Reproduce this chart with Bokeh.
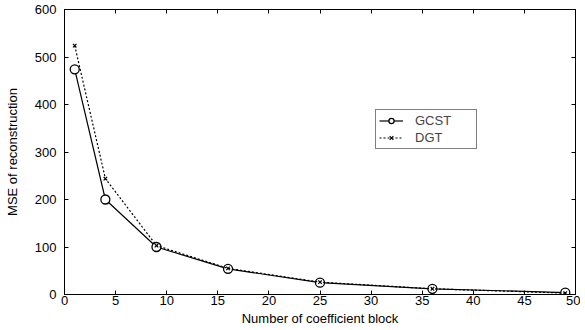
from bokeh.plotting import figure
from bokeh.models import LinearAxis, Range1d, Legend, LegendItem, FixedTicker
from bokeh.embed import file_html
from bokeh.resources import INLINE

blocks = [1, 4, 9, 16, 25, 36, 49]
gcst = [474, 200, 100, 54, 25, 12, 4]
dgt = [524, 244, 103, 55, 26, 12, 3]
x_ticks = [0, 5, 10, 15, 20, 25, 30, 35, 40, 45, 50]
y_ticks = [0, 100, 200, 300, 400, 500, 600]

FONT = "Liberation Sans"
FS = "13px"

p = figure(width=580, height=328, output_backend="svg", toolbar_location=None,
           x_range=Range1d(0, 50), y_range=Range1d(0, 600),
           min_border_left=64, min_border_right=5, min_border_top=9, min_border_bottom=34)
p.grid.visible = False
p.outline_line_color = "black"
p.outline_line_width = 1

for ax in p.xaxis + p.yaxis:
    ax.major_tick_in = 4
    ax.major_tick_out = 0
    ax.minor_tick_line_color = None
    ax.axis_line_color = "black"
    ax.major_label_text_font = FONT
    ax.major_label_text_font_size = FS
    ax.major_label_text_color = "black"
    ax.axis_label_text_font = FONT
    ax.axis_label_text_font_size = FS
    ax.axis_label_text_font_style = "normal"
    ax.axis_label_text_color = "black"
    ax.axis_label_text_line_height = 1.0
    ax.major_label_text_line_height = 1.0

p.xaxis.ticker = FixedTicker(ticks=x_ticks)
p.yaxis.ticker = FixedTicker(ticks=y_ticks)
p.xaxis.axis_label = "Number of coefficient block"
p.yaxis.axis_label = "MSE of reconstruction"
p.xaxis.major_label_standoff = 1
p.xaxis.axis_label_standoff = 3
p.yaxis.major_label_standoff = 8
p.yaxis.axis_label_standoff = 12

blank_x = {t: "" for t in x_ticks}
blank_y = {t: "" for t in y_ticks}
top = LinearAxis(ticker=FixedTicker(ticks=x_ticks), major_tick_in=4, major_tick_out=0,
                 minor_tick_line_color=None, major_label_overrides=blank_x,
                 major_label_standoff=0, axis_line_color=None)
right = LinearAxis(ticker=FixedTicker(ticks=y_ticks), major_tick_in=4, major_tick_out=0,
                   minor_tick_line_color=None, major_label_overrides=blank_y,
                   major_label_standoff=0, axis_line_color=None)
p.add_layout(top, "above")
p.add_layout(right, "right")

l1 = p.line(blocks, gcst, line_color="black", line_width=1.2)
m1 = p.scatter(blocks, gcst, marker="circle", size=9, fill_color="white",
               line_color="black", line_width=1.3)
l2 = p.line(blocks, dgt, line_color="black", line_width=1.2, line_dash="2 2")
m2 = p.scatter(blocks, dgt, marker="x", size=5, line_color="black", line_width=1.2)

legend = Legend(items=[LegendItem(label="GCST\u00a0\u00a0\u00a0\u00a0\u00a0\u00a0", renderers=[l1, m1]),
                       LegendItem(label="DGT", renderers=[l2, m2])],
                location=(311, 145), orientation="vertical",
                border_line_color="black", border_line_width=1,
                background_fill_color="white", background_fill_alpha=1,
                label_text_font=FONT, label_text_font_size=FS,
                label_standoff=12, glyph_width=24, glyph_height=13,
                label_height=13, spacing=2, padding=3, margin=0)
p.add_layout(legend, "center")

open("out.html", "w").write(file_html(p, INLINE))
